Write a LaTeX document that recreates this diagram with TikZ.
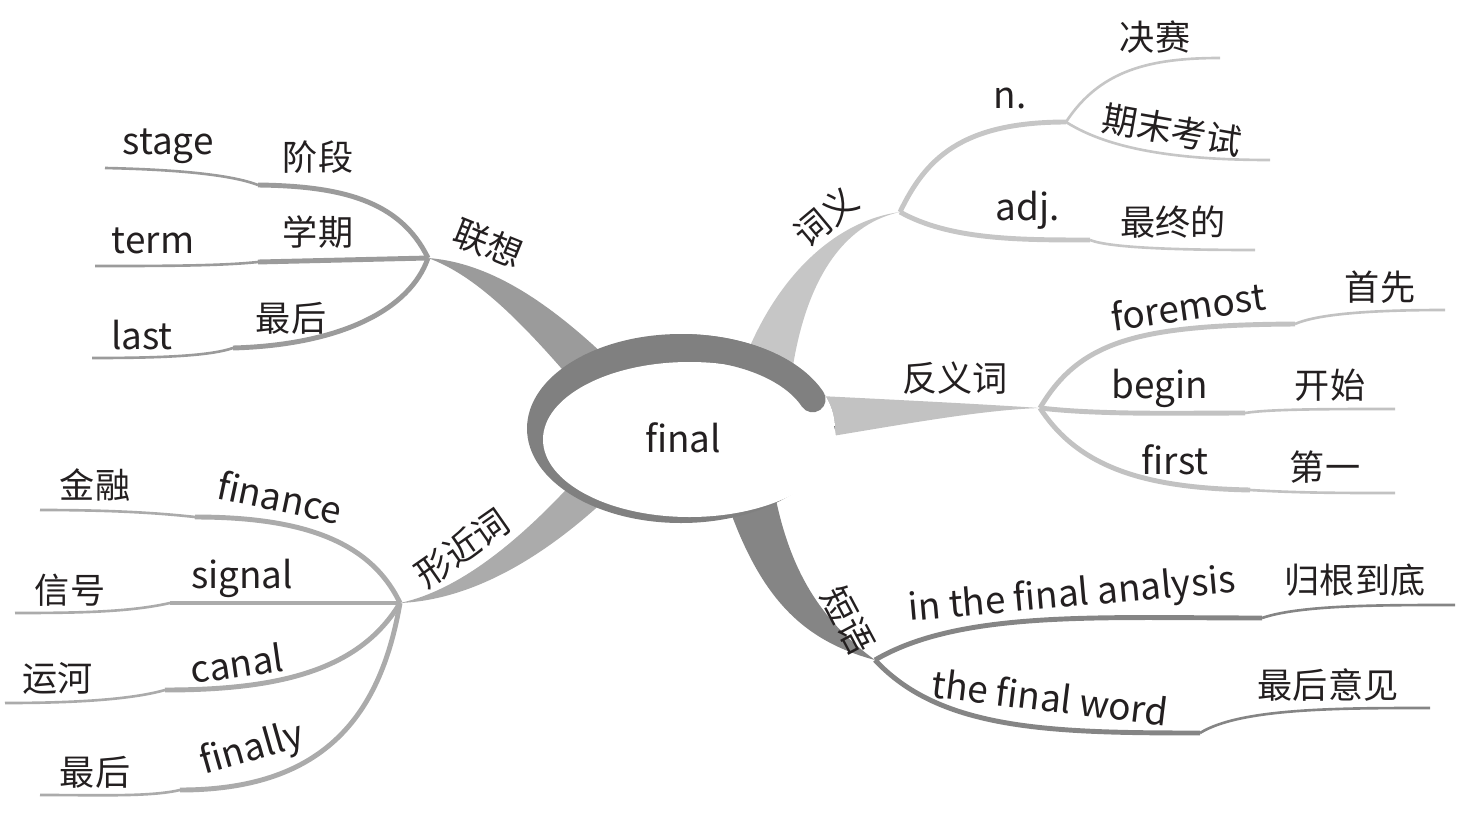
\documentclass[tikz,border=0pt]{standalone}
\usepackage{fontspec}
\setmainfont{Noto Sans CJK SC}
\definecolor{ink}{HTML}{231F20}
\definecolor{ringgray}{HTML}{808080}
\definecolor{lxgray}{HTML}{9B9B9B}
\definecolor{cygray}{HTML}{C6C6C6}
\definecolor{fygray}{HTML}{C2C2C2}
\definecolor{dygray}{HTML}{858585}
\definecolor{xjgray}{HTML}{ABABAB}

\begin{document}
\begin{tikzpicture}[x=0.02cm, y=-0.02cm,
  en/.style={font=\fontsize{21}{24}\selectfont, text=ink, inner sep=0pt},
  zh/.style={font=\fontsize{20}{24}\selectfont, text=ink, inner sep=0pt},
  twig/.style={line width=2.8pt},
  leaf/.style={line width=1.5pt}
]
\useasboundingbox (0,0) rectangle (1481,815);

% Forks, kinks and free ends
\coordinate (lx) at (428,258);
\coordinate (lxk1) at (258,185); \coordinate (lxe1) at (105,168);
\coordinate (lxk2) at (258,262); \coordinate (lxe2) at (95,266);
\coordinate (lxk3) at (233,348); \coordinate (lxe3) at (92,358);

\coordinate (cy) at (900,212);
\coordinate (cyn) at (1066,122);
\coordinate (cye1) at (1220,58);
\coordinate (cye2) at (1270,160);
\coordinate (cyk3) at (1090,240); \coordinate (cye3) at (1255,250);

\coordinate (fy) at (1040,408);
\coordinate (fyk1) at (1295,324); \coordinate (fye1) at (1445,310);
\coordinate (fyk2) at (1245,413); \coordinate (fye2) at (1395,409);
\coordinate (fyk3) at (1250,490); \coordinate (fye3) at (1395,493);

\coordinate (dy) at (875,660);
\coordinate (dyk1) at (1262,618); \coordinate (dye1) at (1455,605);
\coordinate (dyk2) at (1200,733); \coordinate (dye2) at (1430,708);

\coordinate (xj) at (400,603);
\coordinate (xjk1) at (195,517); \coordinate (xje1) at (40,510);
\coordinate (xjk2) at (170,603); \coordinate (xje2) at (15,613);
\coordinate (xjk3) at (165,690); \coordinate (xje3) at (5,703);
\coordinate (xjk4) at (180,790); \coordinate (xje4) at (40,795);

% Main branches (tapered, hidden under the ring at their base)
\fill[lxgray] (lx) .. controls (480,262) and (535,290) .. (605,356)
  -- (575,384) .. controls (520,320) and (475,275) .. (lx) -- cycle;
\fill[cygray] (cy) .. controls (840,225) and (805,285) .. (792,372)
  -- (745,358) .. controls (780,270) and (840,220) .. (cy) -- cycle;
\fill[fygray] (820,396) .. controls (900,400) and (980,404) .. (fy)
  .. controls (980,410) and (900,425) .. (820,438) -- cycle;
\fill[dygray] (728,505) .. controls (760,595) and (800,640) .. (dy)
  .. controls (820,620) and (790,570) .. (775,495) -- cycle;
\fill[xjgray] (575,480) .. controls (520,540) and (460,590) .. (xj)
  .. controls (470,600) and (540,560) .. (605,500) -- cycle;

% 联想
\draw[lxgray, twig] (lx) .. controls (400,200) and (340,186) .. (lxk1);
\draw[lxgray, leaf] (lxk1) .. controls (240,178) and (200,170) .. (lxe1);
\draw[lxgray, twig] (lx) -- (lxk2);
\draw[lxgray, leaf] (lxk2) .. controls (220,266) and (160,266) .. (lxe2);
\draw[lxgray, twig] (lx) .. controls (410,310) and (340,345) .. (lxk3);
\draw[lxgray, leaf] (lxk3) .. controls (210,356) and (160,358) .. (lxe3);

% 词义
\draw[cygray, twig] (cy) .. controls (925,160) and (960,122) .. (cyn);
\draw[cygray, leaf] (cyn) .. controls (1100,70) and (1150,58) .. (cye1);
\draw[cygray, leaf] (cyn) .. controls (1110,150) and (1180,160) .. (cye2);
\draw[cygray, twig] (cy) .. controls (950,240) and (1020,240) .. (cyk3);
\draw[cygray, leaf] (cyk3) .. controls (1110,248) and (1180,250) .. (cye3);

% 反义词
\draw[fygray, twig] (fy) .. controls (1080,340) and (1140,325) .. (fyk1);
\draw[fygray, leaf] (fyk1) .. controls (1320,313) and (1380,310) .. (fye1);
\draw[fygray, twig] (fy) .. controls (1100,415) and (1180,413) .. (fyk2);
\draw[fygray, leaf] (fyk2) .. controls (1270,409) and (1330,409) .. (fye2);
\draw[fygray, twig] (fy) .. controls (1080,470) and (1150,488) .. (fyk3);
\draw[fygray, leaf] (fyk3) .. controls (1300,493) and (1340,493) .. (fye3);

% 短语
\draw[dygray, twig] (dy) .. controls (960,610) and (1100,618) .. (dyk1);
\draw[dygray, leaf] (dyk1) .. controls (1300,605) and (1380,605) .. (dye1);
\draw[dygray, twig] (dy) .. controls (940,730) and (1050,733) .. (dyk2);
\draw[dygray, leaf] (dyk2) .. controls (1240,708) and (1340,708) .. (dye2);

% 形近词
\draw[xjgray, twig] (xj) .. controls (370,540) and (300,517) .. (xjk1);
\draw[xjgray, leaf] (xjk1) .. controls (150,512) and (100,510) .. (xje1);
\draw[xjgray, twig] (xj) -- (xjk2);
\draw[xjgray, leaf] (xjk2) .. controls (130,612) and (80,613) .. (xje2);
\draw[xjgray, twig] (xj) .. controls (360,670) and (280,690) .. (xjk3);
\draw[xjgray, leaf] (xjk3) .. controls (130,700) and (70,703) .. (xje3);
\draw[xjgray, twig] (xj) .. controls (380,720) and (320,790) .. (xjk4);
\draw[xjgray, leaf] (xjk4) .. controls (150,797) and (100,795) .. (xje4);

% Central ring
\fill[ringgray] (681,428.5) ellipse [x radius=154, y radius=94.5];
\fill[white] (689.5,439.5) ellipse [x radius=146.5, y radius=77.5];
\begin{scope}
  \clip (681,428.5) ellipse [x radius=154, y radius=94.5];
  \fill[white] (790,300) rectangle (900,426);
\end{scope}
\draw[ringgray, line width=0.52cm, line cap=round]
  (681,347) arc [start angle=-90, end angle=-21, x radius=141, y radius=81.5];
\node[en] (final) at (683,438) {final};

% Labels
\node[zh, rotate=-22] (lxlbl) at (488,243) {联想};
\node[en] (stage) at (168,146) {stage};
\node[zh] (jieduan) at (318,157) {阶段};
\node[en] (term) at (153,241) {term};
\node[zh] (xueqi) at (318,232) {学期};
\node[en] (last) at (142,335) {last};
\node[zh] (zuihou1) at (291,318) {最后};

\node[zh, rotate=40] (cylbl) at (826,217) {词义};
\node[en] (noun) at (1010,98) {n.};
\node[zh] (juesai) at (1155,37) {决赛};
\node[zh, rotate=-10] (qimo) at (1172,130) {期末考试};
\node[en] (adj) at (1028,210) {adj.};
\node[zh] (zuizhong) at (1173,222) {最终的};

\node[zh] (fylbl) at (955,378) {反义词};
\node[en, rotate=8] (foremost) at (1188,306) {foremost};
\node[zh] (shouxian) at (1380,287) {首先};
\node[en] (begin) at (1160,388) {begin};
\node[zh] (kaishi) at (1330,385) {开始};
\node[en] (first) at (1175,460) {first};
\node[zh] (diyi) at (1325,467) {第一};

\node[zh, rotate=-62] (dylbl) at (848,620) {短语};
\node[en, rotate=5] (analysis) at (1072,596) {in the final analysis};
\node[zh] (guigen) at (1355,580) {归根到底};
\node[en, rotate=-7] (word) at (1050,697) {the final word};
\node[zh] (yijian) at (1328,685) {最后意见};

\node[zh, rotate=35] (xjlbl) at (462,548) {形近词};
\node[en, rotate=-12] (finance) at (280,497) {finance};
\node[zh] (jinrong) at (95,485) {金融};
\node[en] (signal) at (242,578) {signal};
\node[zh] (xinhao) at (70,590) {信号};
\node[en, rotate=8] (canal) at (237,663) {canal};
\node[zh] (yunhe) at (58,678) {运河};
\node[en, rotate=16] (finally) at (252,750) {finally};
\node[zh] (zuihou2) at (95,772) {最后};

\end{tikzpicture}
\end{document}
